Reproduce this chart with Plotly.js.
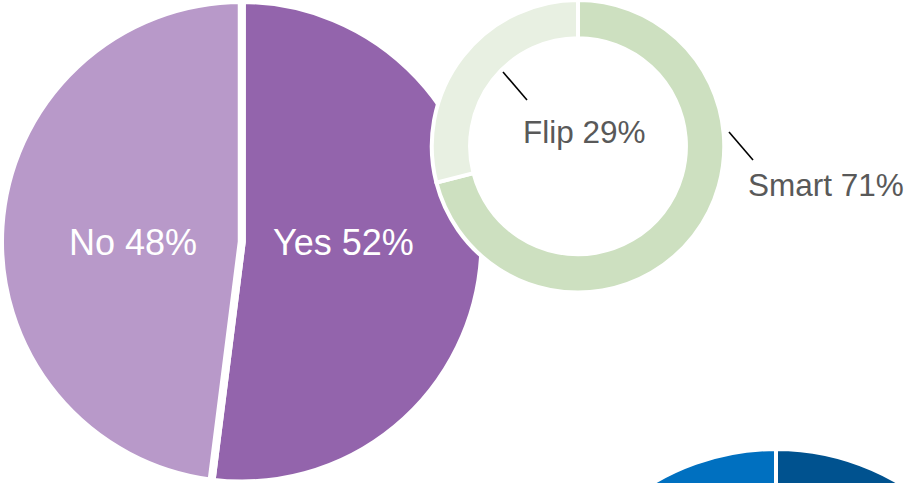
<!DOCTYPE html>
<html>
<head>
<meta charset="utf-8">
<script src="https://cdn.plot.ly/plotly-3.0.1.min.js"></script>
<style>
  html, body { margin: 0; padding: 0; overflow: hidden; background: #fff; }
  #chart { width: 1100px; height: 1000px; }
</style>
</head>
<body>
<div id="chart"></div>
<script>
// ---- data ----
var pollLabels = ["Yes", "No"];
var pollValues = [52, 48];
var phoneLabels = ["Smart", "Flip"];
var phoneValues = [71, 29];
var thirdLabels = ["A", "B"];
var thirdValues = [55, 45];

// ---- helpers (canvas is larger than the 913x483 window) ----
var W = 1100, H = 1000;
function px(x) { return x / W; }
function py(y) { return 1 - y / H; }
function dom(cx, cy, r) {
  return { x: [px(cx - r), px(cx + r)], y: [py(cy + r), py(cy - r)] };
}
function pct(labels, values, i) {
  var tot = values.reduce(function (a, b) { return a + b; }, 0);
  return labels[i] + " " + Math.round(values[i] / tot * 100) + "%";
}

var FONT = "Liberation Sans, Arial, sans-serif";

var traces = [
  {
    type: "pie", labels: pollLabels, values: pollValues,
    sort: false, direction: "clockwise", rotation: 0,
    marker: { colors: ["#9364AC", "#B899C9"], line: { color: "#ffffff", width: 8 } },
    textinfo: "none", hoverinfo: "label+percent",
    domain: dom(240.5, 240.5, 243), showlegend: false
  },
  {
    type: "pie", labels: phoneLabels, values: phoneValues, hole: 0.738,
    sort: false, direction: "clockwise", rotation: 0,
    marker: { colors: ["#CDE0C0", "#E8F0E2"], line: { color: "#ffffff", width: 4 } },
    textinfo: "none", hoverinfo: "label+percent",
    domain: dom(578, 145.5, 147), showlegend: false
  },
  {
    type: "pie", labels: thirdLabels, values: thirdValues,
    sort: false, direction: "clockwise", rotation: 0,
    marker: { colors: ["#00528F", "#0070C0"], line: { color: "#ffffff", width: 4 } },
    textinfo: "none", hoverinfo: "label+percent",
    domain: dom(776, 689, 240), showlegend: false
  }
];

function ann(text, x, y, size, color) {
  return {
    xref: "paper", yref: "paper", x: px(x), y: py(y),
    xanchor: "center", yanchor: "middle", showarrow: false,
    text: text, font: { family: FONT, size: size, color: color }
  };
}

var layout = {
  width: W, height: H,
  margin: { l: 0, r: 0, t: 0, b: 0 },
  paper_bgcolor: "#ffffff",
  showlegend: false,
  annotations: [
    ann(pct(pollLabels, pollValues, 0), 343.5, 242, 36, "#ffffff"),
    ann(pct(pollLabels, pollValues, 1), 133, 242, 36, "#ffffff"),
    ann(pct(phoneLabels, phoneValues, 1), 584.5, 132, 31.5, "#595959"),
    ann(pct(phoneLabels, phoneValues, 0), 826, 185, 31.5, "#595959")
  ],
  shapes: [
    { type: "line", xref: "paper", yref: "paper", x0: px(503), y0: py(72), x1: px(527), y1: py(100),
      line: { color: "#000000", width: 1.6 } },
    { type: "line", xref: "paper", yref: "paper", x0: px(729), y0: py(132), x1: px(753), y1: py(160),
      line: { color: "#000000", width: 1.6 } }
  ]
};

Plotly.newPlot("chart", traces, layout, { staticPlot: true, displayModeBar: false });
</script>
</body>
</html>
